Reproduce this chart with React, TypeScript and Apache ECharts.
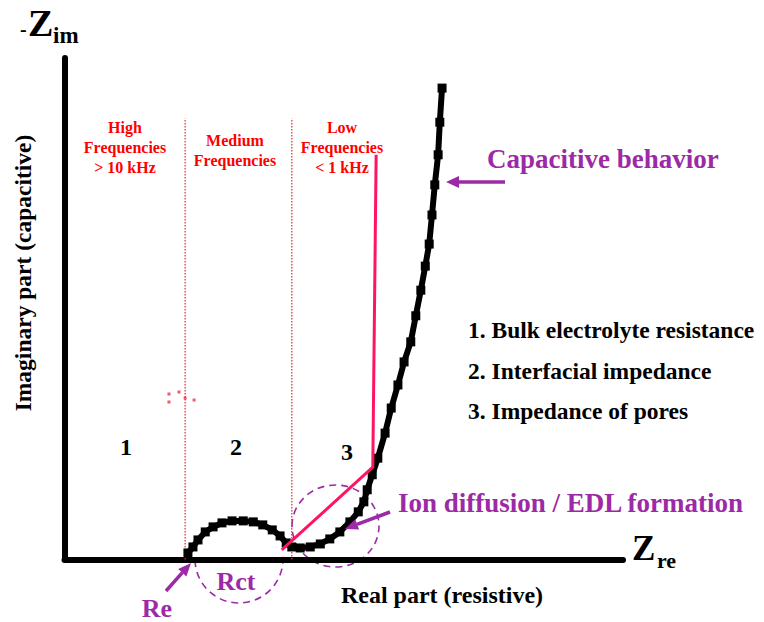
import React, { useEffect, useRef } from "react";
import * as echarts from "echarts";

// Nyquist curve (Z real, -Z imaginary), arbitrary units 0..100
const curveX = [22.1, 23.0, 23.9, 25.2, 26.6, 28.2, 30.0, 32.0, 33.8, 35.5, 37.2, 38.6, 39.7, 40.7, 42.2, 44.0, 45.8, 47.5, 49.3, 51.1, 52.6, 53.6, 54.2, 55.1, 56.1, 57.4, 58.5, 59.7, 60.8, 62.0, 62.9, 63.8, 64.6, 65.3, 65.8, 66.3, 66.9, 67.2, 67.6];
const curveY = [1.3, 2.5, 3.9, 5.5, 6.5, 7.3, 7.7, 7.7, 7.5, 6.9, 5.9, 4.7, 3.3, 2.5, 2.3, 2.5, 3.1, 4.1, 5.5, 7.5, 9.5, 11.5, 13.9, 16.9, 20.2, 25.2, 30.2, 34.8, 39.4, 43.4, 48.6, 53.7, 58.5, 62.9, 68.7, 74.7, 80.7, 87.2, 94.0];

// Guide line (pink)
const guideX = [38.9, 55.2, 55.8];
const guideY = [1.9, 18.4, 80.7];

// Frequency region dividers
const dividerX = [21.6, 40.7];
const dividerTop = 88.0;

// Stray red dots
const dotX = [18.7, 18.7, 20.5, 21.6, 23.2];
const dotY = [33.0, 31.4, 33.4, 32.2, 31.8];

const regionLabels = ["High\nFrequencies\n> 10 kHz", "Medium\nFrequencies", "Low\nFrequencies\n< 1 kHz"];
const regionNumbers = ["1", "2", "3"];
const listItems = ["1. Bulk electrolyte resistance", "2. Interfacial impedance", "3. Impedance of pores"];

const FONT = "Liberation Serif";
const PURPLE = "#9c2aa6";
const RED = "#ff0000";
const PINK = "#ff1464";

export default function App() {
  const ref = useRef<HTMLDivElement>(null);
  useEffect(() => {
    document.body.style.margin = "0";
    const chart = echarts.init(ref.current!, undefined, { renderer: "svg" });
    const curve = curveX.map((x, i) => [x, curveY[i]]);
    const guide = guideX.map((x, i) => [x, guideY[i]]);
    const dots = dotX.map((x, i) => [x, dotY[i]]);

    const txt = (text: string, x: number, y: number, size: number, color: string, align = "left", extra: any = {}) => ({
      type: "text",
      x,
      y,
      z: 10,
      ...extra,
      style: {
        text,
        fill: color,
        fontFamily: FONT,
        fontWeight: "bold",
        fontSize: size,
        align,
        verticalAlign: "middle",
        lineHeight: extra.lineHeight,
      },
    });

    const option: any = {
      animation: false,
      backgroundColor: "#ffffff",
      grid: { left: 64.5, top: 58, width: 558.5, height: 501.5 },
      xAxis: {
        type: "value",
        min: 0,
        max: 100,
        axisLine: { show: true, lineStyle: { color: "#000", width: 6 } },
        axisTick: { show: false },
        axisLabel: { show: false },
        splitLine: { show: false },
      },
      yAxis: {
        type: "value",
        min: 0,
        max: 100,
        axisLine: { show: true, lineStyle: { color: "#000", width: 6 } },
        axisTick: { show: false },
        axisLabel: { show: false },
        splitLine: { show: false },
      },
      series: [
        ...dividerX.map((x) => ({
          type: "line",
          data: [[x, 0], [x, dividerTop]],
          symbol: "none",
          z: 1,
          lineStyle: { color: "#e02828", width: 1.2, type: [1.5, 1.5] },
        })),
        {
          type: "scatter",
          data: dots,
          symbol: "rect",
          symbolSize: 3,
          itemStyle: { color: "#f03040" },
          z: 1,
        },
        {
          type: "line",
          data: curve,
          symbol: "rect",
          symbolSize: 9,
          showAllSymbol: true,
          lineStyle: { color: "#000", width: 6, join: "round" },
          itemStyle: { color: "#000" },
          z: 3,
        },
        {
          type: "line",
          data: guide,
          symbol: "none",
          lineStyle: { color: PINK, width: 3 },
          z: 4,
        },
      ],
      graphic: [
        // axis titles
        txt("-", 20, 29, 20, "#000"),
        txt("Z", 28, 23, 38, "#000"),
        txt("im", 53, 35.5, 23, "#000"),
        txt("Z", 632, 548.5, 35, "#000"),
        txt("re", 657, 560, 22, "#000"),
        txt("Imaginary part (capacitive)", 22.5, 273, 23.5, "#000", "center", { rotation: Math.PI / 2 }),
        txt("Real part (resistive)", 442, 595, 24, "#000", "center"),
        // region labels
        txt(regionLabels[0], 125, 147.5, 16, RED, "center", { lineHeight: 20 }),
        txt(regionLabels[1], 235, 150, 16, RED, "center", { lineHeight: 20 }),
        txt(regionLabels[2], 342, 147.5, 16, RED, "center", { lineHeight: 20 }),
        txt(regionNumbers[0], 126, 447, 24, "#000", "center"),
        txt(regionNumbers[1], 236, 447, 24, "#000", "center"),
        txt(regionNumbers[2], 347, 452, 24, "#000", "center"),
        // list
        txt(listItems[0], 468, 330, 23.5, "#000"),
        txt(listItems[1], 468, 371, 23.5, "#000"),
        txt(listItems[2], 468, 411, 23.5, "#000"),
        // purple annotations
        txt("Capacitive behavior", 487, 159, 27, PURPLE),
        txt("Ion diffusion / EDL formation", 398, 502.5, 27, PURPLE),
        txt("Rct", 236, 581, 26, PURPLE, "center"),
        txt("Re", 157, 608, 26, PURPLE, "center"),
        // arrows
        { type: "line", z: 10, shape: { x1: 505, y1: 182, x2: 456, y2: 182 }, style: { stroke: PURPLE, lineWidth: 3.5 } },
        { type: "polygon", z: 10, shape: { points: [[446, 182], [459, 176], [459, 188]] }, style: { fill: PURPLE } },
        { type: "line", z: 10, shape: { x1: 390, y1: 512, x2: 357, y2: 524.4 }, style: { stroke: PURPLE, lineWidth: 3.5 } },
        { type: "polygon", z: 10, shape: { points: [[345, 529], [359.1, 529.5], [355.3, 519.3]] }, style: { fill: PURPLE } },
        { type: "line", z: 10, shape: { x1: 166, y1: 591, x2: 182.3, y2: 572.7 }, style: { stroke: PURPLE, lineWidth: 3.5 } },
        { type: "polygon", z: 10, shape: { points: [[191, 563], [186.4, 576.4], [178.2, 569.0]] }, style: { fill: PURPLE } },
        // dashed circles
        {
          type: "arc", z: 0,
          shape: { cx: 239, cy: 559, r: 44, startAngle: -0.05, endAngle: Math.PI + 0.05, clockwise: true },
          style: { stroke: PURPLE, lineWidth: 1.6, lineDash: [7, 5], fill: "none" },
        },
        {
          type: "ellipse", z: 0,
          shape: { cx: 335.5, cy: 526, rx: 43.5, ry: 41 },
          style: { stroke: PURPLE, lineWidth: 1.6, lineDash: [7, 5], fill: "none" },
        },
      ],
    };
    chart.setOption(option);
    return () => chart.dispose();
  }, []);
  return <div ref={ref} style={{ width: 764, height: 622 }} />;
}
